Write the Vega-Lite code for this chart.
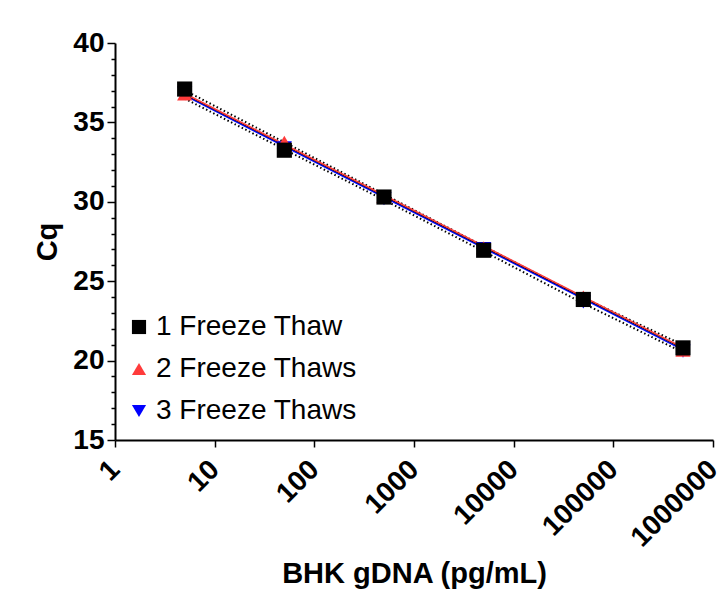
{
  "$schema": "https://vega.github.io/schema/vega-lite/v6.json",
  "width": 598,
  "height": 397,
  "autosize": {"type": "none"},
  "padding": {"left": 115, "top": 43, "right": 8, "bottom": 165},
  "background": "white",
  "config": {
    "view": {"stroke": null},
    "font": "Liberation Sans",
    "axis": {
      "grid": false,
      "domainColor": "black",
      "domainWidth": 2,
      "tickColor": "black",
      "tickWidth": 1.5,
      "labelColor": "black",
      "labelFont": "Liberation Sans",
      "labelFontWeight": "bold",
      "labelFontSize": 28,
      "titleFont": "Liberation Sans",
      "titleFontWeight": "bold",
      "titleFontSize": 29,
      "titleColor": "black"
    },
    "legend": {
      "labelFont": "Liberation Sans",
      "labelFontSize": 27,
      "labelColor": "black",
      "labelLimit": 0
    }
  },
  "datasets": {
    "points": [
      {"conc": 5, "cq": 36.85, "series": "3 Freeze Thaws"},
      {"conc": 50, "cq": 33.4, "series": "3 Freeze Thaws"},
      {"conc": 500, "cq": 30.2, "series": "3 Freeze Thaws"},
      {"conc": 5000, "cq": 27.05, "series": "3 Freeze Thaws"},
      {"conc": 50000, "cq": 23.7, "series": "3 Freeze Thaws"},
      {"conc": 500000, "cq": 20.6, "series": "3 Freeze Thaws"},
      {"conc": 5, "cq": 36.8, "series": "2 Freeze Thaws"},
      {"conc": 50, "cq": 33.75, "series": "2 Freeze Thaws"},
      {"conc": 500, "cq": 30.35, "series": "2 Freeze Thaws"},
      {"conc": 5000, "cq": 27.1, "series": "2 Freeze Thaws"},
      {"conc": 50000, "cq": 24.0, "series": "2 Freeze Thaws"},
      {"conc": 500000, "cq": 20.65, "series": "2 Freeze Thaws"},
      {"conc": 5, "cq": 37.1, "series": "1 Freeze Thaw"},
      {"conc": 50, "cq": 33.25, "series": "1 Freeze Thaw"},
      {"conc": 500, "cq": 30.3, "series": "1 Freeze Thaw"},
      {"conc": 5000, "cq": 26.95, "series": "1 Freeze Thaw"},
      {"conc": 50000, "cq": 23.85, "series": "1 Freeze Thaw"},
      {"conc": 500000, "cq": 20.8, "series": "1 Freeze Thaw"}
    ],
    "fits": [
      {"conc": 5, "cq": 36.7, "series": "3 Freeze Thaws"},
      {"conc": 500000, "cq": 20.68, "series": "3 Freeze Thaws"},
      {"conc": 5, "cq": 36.82, "series": "2 Freeze Thaws"},
      {"conc": 500000, "cq": 20.82, "series": "2 Freeze Thaws"},
      {"conc": 5, "cq": 36.76, "series": "1 Freeze Thaw"},
      {"conc": 500000, "cq": 20.75, "series": "1 Freeze Thaw"}
    ],
    "bands": [
      {"conc": 5, "cq": 37.02, "bound": "upper"},
      {"conc": 50, "cq": 33.75, "bound": "upper"},
      {"conc": 500, "cq": 30.47, "bound": "upper"},
      {"conc": 5000, "cq": 27.2, "bound": "upper"},
      {"conc": 50000, "cq": 23.96, "bound": "upper"},
      {"conc": 500000, "cq": 20.98, "bound": "upper"},
      {"conc": 5, "cq": 36.5, "bound": "lower"},
      {"conc": 50, "cq": 33.3, "bound": "lower"},
      {"conc": 500, "cq": 30.12, "bound": "lower"},
      {"conc": 5000, "cq": 26.88, "bound": "lower"},
      {"conc": 50000, "cq": 23.6, "bound": "lower"},
      {"conc": 500000, "cq": 20.52, "bound": "lower"}
    ]
  },
  "encoding": {
    "x": {
      "field": "conc",
      "type": "quantitative",
      "scale": {"type": "log", "domain": [1, 1000000], "nice": false},
      "axis": {
        "title": "BHK gDNA (pg/mL)",
        "values": [1, 10, 100, 1000, 10000, 100000, 1000000],
        "format": "d",
        "labelAngle": -45,
        "labelAlign": "right",
        "labelBaseline": "middle",
        "tickSize": 7,
        "labelPadding": 18,
        "titlePadding": 8,
        "labelFlush": false,
        "labelOverlap": false
      }
    },
    "y": {
      "field": "cq",
      "type": "quantitative",
      "scale": {"domain": [15, 40], "nice": false, "zero": false},
      "axis": {
        "title": "Cq",
        "values": [15, 16, 17, 18, 19, 20, 21, 22, 23, 24, 25, 26, 27, 28, 29, 30, 31, 32, 33, 34, 35, 36, 37, 38, 39, 40],
        "labelExpr": "datum.value % 5 === 0 ? datum.label : ''",
        "tickSize": {"condition": {"test": "datum.value % 5 === 0", "value": 8}, "value": 4},
        "labelPadding": 3,
        "titlePadding": 10,
        "labelFlush": false,
        "labelOverlap": false
      }
    }
  },
  "layer": [
    {
      "data": {"name": "bands"},
      "mark": {"type": "line", "color": "black", "strokeWidth": 2, "strokeDash": [1.5, 2.5]},
      "encoding": {"detail": {"field": "bound", "type": "nominal"}}
    },
    {
      "data": {"name": "fits"},
      "transform": [{"filter": "datum.series === '3 Freeze Thaws'"}],
      "mark": {"type": "line", "strokeWidth": 1.5, "color": "#0000ff"},
      "encoding": {}
    },
    {
      "data": {"name": "fits"},
      "transform": [{"filter": "datum.series === '1 Freeze Thaw'"}],
      "mark": {"type": "line", "strokeWidth": 1, "color": "#000000"},
      "encoding": {}
    },
    {
      "data": {"name": "fits"},
      "transform": [{"filter": "datum.series === '2 Freeze Thaws'"}],
      "mark": {"type": "line", "strokeWidth": 1.5, "color": "#ff3b3b"},
      "encoding": {}
    },
    {
      "data": {"name": "points"},
      "mark": {"type": "point", "filled": true, "opacity": 1, "size": 230},
      "encoding": {
        "color": {
          "field": "series",
          "type": "nominal",
          "scale": {"domain": ["1 Freeze Thaw", "2 Freeze Thaws", "3 Freeze Thaws"], "range": ["#000000", "#ff3b3b", "#0000ff"]},
          "legend": {
            "title": null,
            "orient": "none",
            "legendX": 10,
            "legendY": 270,
            "labelOffset": 3,
            "labelFontSize": 28,
            "labelLimit": 0,
            "symbolSize": 200,
            "rowPadding": 14
          }
        },
        "shape": {
          "field": "series",
          "type": "nominal",
          "scale": {"domain": ["1 Freeze Thaw", "2 Freeze Thaws", "3 Freeze Thaws"], "range": ["square", "triangle-up", "triangle-down"]}
        }
      }
    }
  ]
}
